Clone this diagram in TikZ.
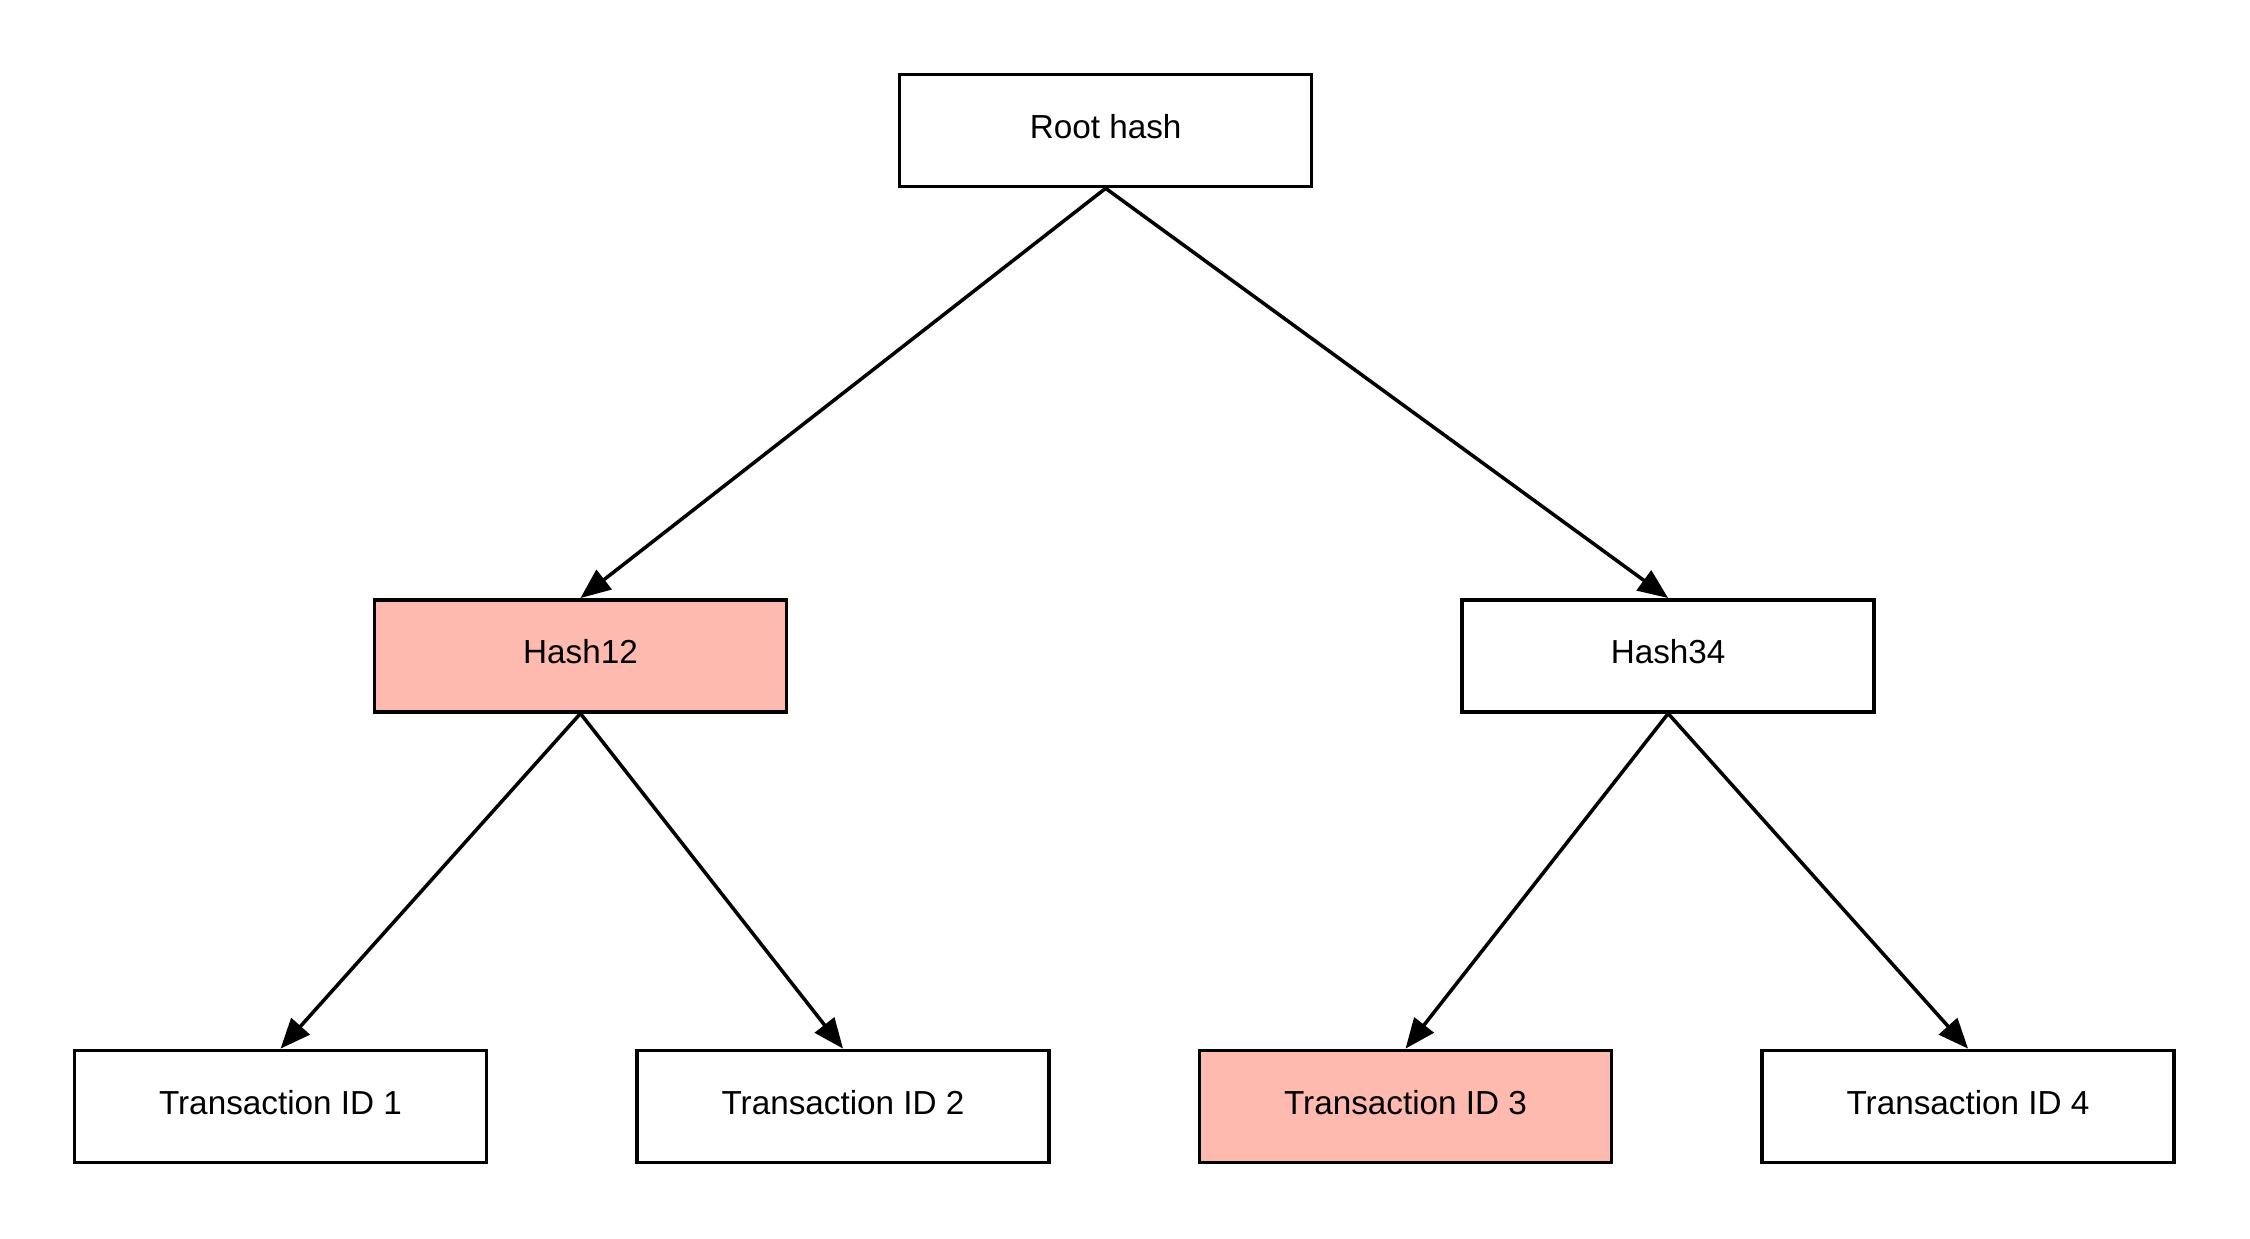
\documentclass[tikz,border=0pt]{standalone}
\usepackage{fontspec}
\setmainfont{Liberation Sans}
\usetikzlibrary{arrows.meta}
\definecolor{marked}{HTML}{FFBAB0}

\begin{document}
\begin{tikzpicture}[
    hashbox/.style={draw, line width=0.7pt, minimum width=2.87cm, minimum height=0.78cm, text height=0.17cm, text depth=0.06cm, font=\fontsize{6.6}{8}\selectfont},
    link/.style={line width=0.7pt, -{Triangle[length=0.21cm, width=0.17cm]}}
]
    \useasboundingbox (0,0) rectangle (15.68,-8.63);
    \node[hashbox] (root) at (7.705,-0.91) {Root hash};
    \node[hashbox, fill=marked] (h12) at (4.045,-4.57) {Hash12};
    \node[hashbox] (h34) at (11.625,-4.57) {Hash34};
    \node[hashbox] (tx1) at (1.955,-7.71) {Transaction ID 1};
    \node[hashbox] (tx2) at (5.875,-7.71) {Transaction ID 2};
    \node[hashbox, fill=marked] (tx3) at (9.795,-7.71) {Transaction ID 3};
    \node[hashbox] (tx4) at (13.715,-7.71) {Transaction ID 4};
    \draw[link] (root.south) -- (h12.north);
    \draw[link] (root.south) -- (h34.north);
    \draw[link] (h12.south) -- (tx1.north);
    \draw[link] (h12.south) -- (tx2.north);
    \draw[link] (h34.south) -- (tx3.north);
    \draw[link] (h34.south) -- (tx4.north);
\end{tikzpicture}
\end{document}
